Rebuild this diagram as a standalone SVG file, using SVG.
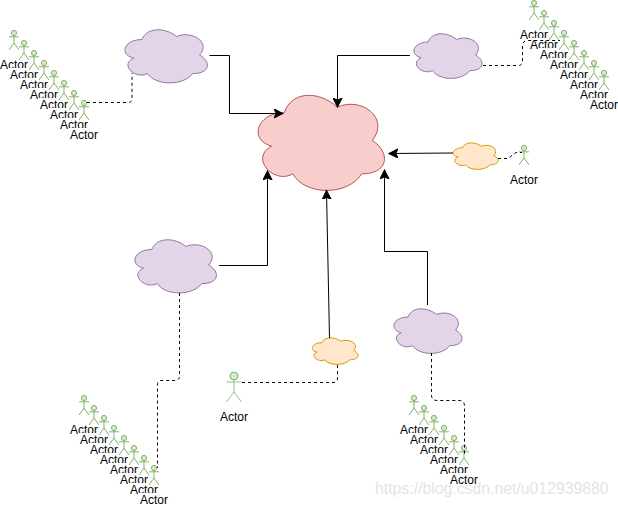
<svg xmlns="http://www.w3.org/2000/svg" width="618" height="506" viewBox="0 0 618 506">
<style>
.bg{fill:#fff}
.purple{fill:#e1d5e7;stroke:#9673a6}
.red{fill:#f8cecc;stroke:#b85450}
.orange{fill:#ffe6cc;stroke:#d79b00}
.a{fill:#d5e8d4;stroke:#82b366;stroke-width:1}
.al{fill:none;stroke:#82b366;stroke-width:1}
text{font-family:"Liberation Sans",Arial,sans-serif;font-size:12px;fill:#000;text-anchor:middle}
.c{fill:none;stroke:#000;stroke-width:1}
.d{fill:none;stroke:#000;stroke-width:1;stroke-dasharray:3 3}
.wm{font-size:15.800px;fill:#dcdcdc;fill-opacity:.8;text-anchor:start}
</style>
<defs>
<path id="cloud" vector-effect="non-scaling-stroke" stroke-width="1" d="M.25 .25C.05 .25 0 .5 .16 .55C0 .66 .18 .9 .31 .8C.4 1 .7 1 .8 .8C1 .8 1 .6 .875 .5C1 .3 .8 .1 .625 .2C.5 .05 .3 .05 .25 .25Z"/>
<marker id="arr" markerUnits="userSpaceOnUse" markerWidth="10" markerHeight="10" refX="8" refY="4" orient="auto" viewBox="0 0 9 8"><path d="M0 0L8 4L0 8L2 4Z" fill="#000" stroke="#000"/></marker>
<g id="actor">
<circle class="a" cx="0" cy="0" r="2.6"/>
<path class="al" d="M0 2.6V10M-5 3.800H5M0 10L-5 17M0 10L5 17"/>
</g>
<rect id="lb" class="bg" x="-16" y="-11" width="32" height="13"/>
</defs>
<g id="main-cloud"><use href="#cloud" class="red" transform="translate(249 85) scale(141 111)"/></g>
<g id="cloud-tl"><use href="#cloud" class="purple" transform="translate(119 24) scale(92 62)"/></g>
<g id="cloud-tr"><use href="#cloud" class="purple" transform="translate(409 29) scale(76 52)"/></g>
<g id="cloud-l"><use href="#cloud" class="purple" transform="translate(129 234) scale(91 62)"/></g>
<g id="cloud-br"><use href="#cloud" class="purple" transform="translate(389 304) scale(76 52)"/></g>
<g id="cloud-or"><use href="#cloud" class="orange" transform="translate(450 140) scale(50 31)"/></g>
<g id="cloud-ob"><use href="#cloud" class="orange" transform="translate(309 335) scale(51 31)"/></g>
<g id="actors-tl">
<g id="tl1"><use href="#actor" x="14" y="33"/><use href="#lb" x="14" y="69"/><text x="14" y="69">Actor</text></g>
<g id="tl2"><use href="#actor" x="24" y="43"/><use href="#lb" x="24" y="79"/><text x="24" y="79">Actor</text></g>
<g id="tl3"><use href="#actor" x="34" y="53"/><use href="#lb" x="34" y="89"/><text x="34" y="89">Actor</text></g>
<g id="tl4"><use href="#actor" x="44" y="63"/><use href="#lb" x="44" y="99"/><text x="44" y="99">Actor</text></g>
<g id="tl5"><use href="#actor" x="54" y="73"/><use href="#lb" x="54" y="109"/><text x="54" y="109">Actor</text></g>
<g id="tl6"><use href="#actor" x="64" y="83"/><use href="#lb" x="64" y="119"/><text x="64" y="119">Actor</text></g>
<g id="tl7"><use href="#actor" x="74" y="93"/><use href="#lb" x="74" y="129"/><text x="74" y="129">Actor</text></g>
<g id="tl8"><use href="#actor" x="84" y="103"/><use href="#lb" x="84" y="139"/><text x="84" y="139">Actor</text></g>
</g>
<g id="actors-tr">
<g id="tr1"><use href="#actor" x="534" y="3"/><use href="#lb" x="534" y="39"/><text x="534" y="39">Actor</text></g>
<g id="tr2"><use href="#actor" x="544" y="13"/><use href="#lb" x="544" y="49"/><text x="544" y="49">Actor</text></g>
<g id="tr3"><use href="#actor" x="554" y="23"/><use href="#lb" x="554" y="59"/><text x="554" y="59">Actor</text></g>
<g id="tr4"><use href="#actor" x="564" y="33"/><use href="#lb" x="564" y="69"/><text x="564" y="69">Actor</text></g>
<g id="tr5"><use href="#actor" x="574" y="43"/><use href="#lb" x="574" y="79"/><text x="574" y="79">Actor</text></g>
<g id="tr6"><use href="#actor" x="584" y="53"/><use href="#lb" x="584" y="89"/><text x="584" y="89">Actor</text></g>
<g id="tr7"><use href="#actor" x="594" y="63"/><use href="#lb" x="594" y="99"/><text x="594" y="99">Actor</text></g>
<g id="tr8"><use href="#actor" x="604" y="73"/><use href="#lb" x="604" y="109"/><text x="604" y="109">Actor</text></g>
</g>
<g id="actors-bl">
<g id="bl1"><use href="#actor" x="84" y="398"/><use href="#lb" x="84" y="434"/><text x="84" y="434">Actor</text></g>
<g id="bl2"><use href="#actor" x="94" y="408"/><use href="#lb" x="94" y="444"/><text x="94" y="444">Actor</text></g>
<g id="bl3"><use href="#actor" x="104" y="418"/><use href="#lb" x="104" y="454"/><text x="104" y="454">Actor</text></g>
<g id="bl4"><use href="#actor" x="114" y="428"/><use href="#lb" x="114" y="464"/><text x="114" y="464">Actor</text></g>
<g id="bl5"><use href="#actor" x="124" y="438"/><use href="#lb" x="124" y="474"/><text x="124" y="474">Actor</text></g>
<g id="bl6"><use href="#actor" x="134" y="448"/><use href="#lb" x="134" y="484"/><text x="134" y="484">Actor</text></g>
<g id="bl7"><use href="#actor" x="144" y="458"/><use href="#lb" x="144" y="494"/><text x="144" y="494">Actor</text></g>
<g id="bl8"><use href="#actor" x="154" y="468"/><use href="#lb" x="154" y="504"/><text x="154" y="504">Actor</text></g>
</g>
<g id="actors-br">
<g id="br1"><use href="#actor" x="414" y="398"/><use href="#lb" x="414" y="434"/><text x="414" y="434">Actor</text></g>
<g id="br2"><use href="#actor" x="424" y="408"/><use href="#lb" x="424" y="444"/><text x="424" y="444">Actor</text></g>
<g id="br3"><use href="#actor" x="434" y="418"/><use href="#lb" x="434" y="454"/><text x="434" y="454">Actor</text></g>
<g id="br4"><use href="#actor" x="444" y="428"/><use href="#lb" x="444" y="464"/><text x="444" y="464">Actor</text></g>
<g id="br5"><use href="#actor" x="454" y="438"/><use href="#lb" x="454" y="474"/><text x="454" y="474">Actor</text></g>
<g id="br6"><use href="#actor" x="464" y="448"/><use href="#lb" x="464" y="484"/><text x="464" y="484">Actor</text></g>
</g>
<g id="actor-r"><use href="#actor" x="524" y="148"/><text x="524" y="184">Actor</text></g>
<g id="actor-b">
<path class="al" d="M234 380V392M226.500 382H241.500M234 392L226.500 402M234 392L241.500 402" opacity=".8"/>
<circle class="a" cx="234" cy="376" r="4"/>
<text x="234" y="421">Actor</text>
</g>
<g id="connectors">
<path class="c" marker-end="url(#arr)" d="M209.500 55.500H229.500V113.500H283"/>
<path class="c" marker-end="url(#arr)" d="M410 55.500H337.500V107"/>
<path class="c" marker-end="url(#arr)" d="M453 153L389 153.500"/>
<path class="c" marker-end="url(#arr)" d="M219 265.500H267.500V171"/>
<path class="c" marker-end="url(#arr)" d="M329.500 338L326.500 190.500"/>
<path class="c" marker-end="url(#arr)" d="M427.500 305V251.500H384.500V170"/>
<path class="d" d="M87 102.500H128Q132 102.500 132 98.500V73"/>
<path class="d" d="M483 65.500H518Q522.500 65.500 522.500 61V46Q522.500 40.500 528 40.500H560"/>
<path class="d" d="M498 158.500H508L516 152.500H522"/>
<path class="d" d="M179.500 293V376Q179.500 380.500 175 380.500H161Q157.500 380.500 157.500 385V468"/>
<path class="d" d="M242 382.500H333Q337.500 382.500 337.500 378V364"/>
<path class="d" d="M431.500 353V395Q431.500 400.500 437 400.500H459Q464.500 400.500 464.500 406V454"/>
</g>
<text class="wm" x="375" y="494">https://blog.csdn.net/u012939880</text>
</svg>
